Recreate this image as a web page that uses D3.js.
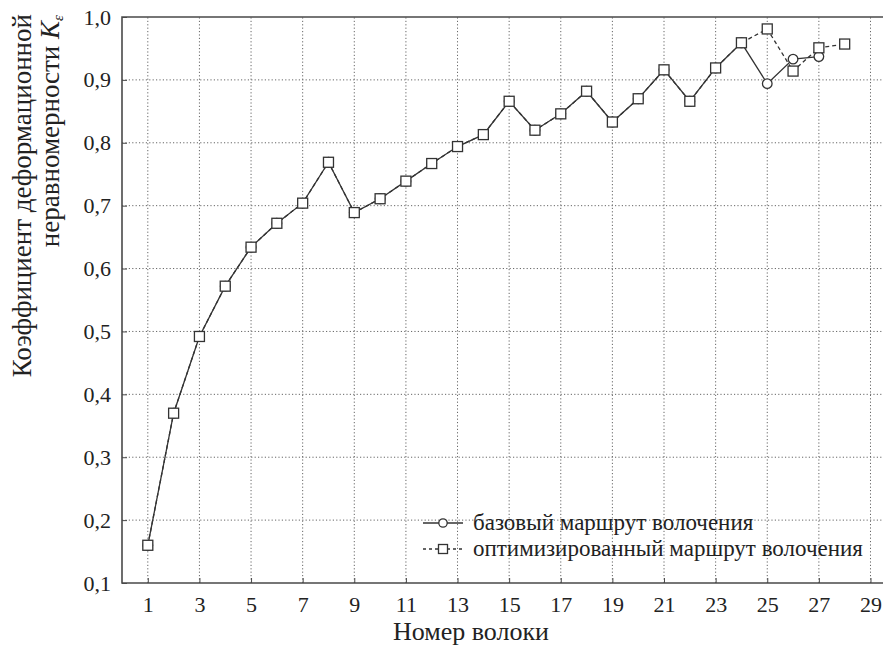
<!DOCTYPE html>
<html>
<head>
<meta charset="utf-8">
<script src="https://cdn.jsdelivr.net/npm/d3@7"></script>
</head>
<body style="margin:0;background:#fff">
<svg id="chart" width="883" height="648" style="display:block"></svg>
<script>
// ---- data ----
const baseX = [1,2,3,4,5,6,7,8,9,10,11,12,13,14,15,16,17,18,19,20,21,22,23,24,25,26,27];
const baseY = [0.160,0.370,0.492,0.572,0.634,0.672,0.704,0.769,0.689,0.711,0.739,0.767,0.794,0.813,0.866,0.820,0.846,0.882,0.833,0.870,0.916,0.866,0.919,0.959,0.894,0.933,0.937];
const optX  = [1,2,3,4,5,6,7,8,9,10,11,12,13,14,15,16,17,18,19,20,21,22,23,24,25,26,27,28];
const optY  = [0.160,0.370,0.492,0.572,0.634,0.672,0.704,0.769,0.689,0.711,0.739,0.767,0.794,0.813,0.866,0.820,0.846,0.882,0.833,0.870,0.916,0.866,0.919,0.959,0.981,0.914,0.951,0.957];
const xTicks = [1,3,5,7,9,11,13,15,17,19,21,23,25,27,29];
const yTicks = [0.1,0.2,0.3,0.4,0.5,0.6,0.7,0.8,0.9,1.0];
const seriesNames = ["базовый маршрут волочения", "оптимизированный маршрут волочения"];
const xTitle = "Номер волоки";
const yTitle1 = "Коэффициент деформационной";
const yTitle2 = "неравномерности";

// ---- layout ----
const FONT = '"Liberation Serif"';
function serif(sel, size) {
  sel.attr("font-family", "Liberation Serif")
     .style("font-family", FONT, "important")
     .style("font-size", size + "px", "important");
  return sel;
}
const svg = d3.select("#chart");
const plotLeft = 122, plotBottom = 583, plotTop = 17;
const x = d3.scaleLinear().domain([0, 30]).range([plotLeft, plotLeft + 30 * 25.81]);
const y = d3.scaleLinear().domain([0.1, 1.0]).range([plotBottom, plotTop]);
const ink = "#333";
const frame = "#4a4a4a";
const txt = "#222";

// grid
const grid = svg.append("g");
grid.selectAll("line.vx").data(xTicks).join("line")
  .attr("x1", d => x(d)).attr("x2", d => x(d))
  .attr("y1", plotBottom).attr("y2", plotTop)
  .attr("stroke", "#666").attr("stroke-width", 1).attr("stroke-dasharray", "1.2,2.2");
grid.selectAll("line.hy").data(yTicks.filter(d => d > 0.1 && d < 1.0)).join("line")
  .attr("x1", plotLeft).attr("x2", 883)
  .attr("y1", d => y(d)).attr("y2", d => y(d))
  .attr("stroke", "#666").attr("stroke-width", 1).attr("stroke-dasharray", "1.2,2.2");

// axes
const xAxis = d3.axisBottom(x).tickValues(xTicks).tickSizeInner(-5).tickSizeOuter(0).tickPadding(13)
  .tickFormat(d => String(d));
const gx = svg.append("g").attr("transform", `translate(0,${plotBottom})`).call(xAxis);
gx.attr("font-family", "Liberation Serif");
gx.select(".domain").remove();
gx.selectAll(".tick line").attr("stroke", frame).attr("stroke-width", 1);
serif(gx.selectAll(".tick text"), 22).attr("fill", txt);

const yAxis = d3.axisLeft(y).tickValues(yTicks).tickSizeInner(-5).tickSizeOuter(0).tickPadding(11)
  .tickFormat(d => d3.format(".1f")(d).replace(".", ","));
const gy = svg.append("g").attr("transform", `translate(${plotLeft},0)`).call(yAxis);
gy.attr("font-family", "Liberation Serif");
gy.select(".domain").remove();
gy.selectAll(".tick line").attr("stroke", frame).attr("stroke-width", 1);
serif(gy.selectAll(".tick text"), 22).attr("fill", txt);

// frame (left, bottom, top; right edge falls outside the image)
svg.append("path")
  .attr("d", `M900,${plotTop}H${plotLeft}V${plotBottom}H900`)
  .attr("fill", "none").attr("stroke", frame).attr("stroke-width", 1.6);

// series
const basePts = baseX.map((v, i) => [v, baseY[i]]);
const optPts = optX.map((v, i) => [v, optY[i]]);
const line = d3.line().x(d => x(d[0])).y(d => y(d[1]));
svg.append("path").attr("d", line(basePts)).attr("fill", "none")
  .attr("stroke", ink).attr("stroke-width", 1.3);
svg.append("path").attr("d", line(optPts)).attr("fill", "none")
  .attr("stroke", ink).attr("stroke-width", 1.3).attr("stroke-dasharray", "4,3");

svg.append("g").selectAll("circle").data(basePts).join("circle")
  .attr("cx", d => x(d[0])).attr("cy", d => y(d[1])).attr("r", 4.8)
  .attr("fill", "#fff").attr("stroke", ink).attr("stroke-width", 1.3);
const sq = 10;
svg.append("g").selectAll("rect").data(optPts).join("rect")
  .attr("x", d => x(d[0]) - sq / 2).attr("y", d => y(d[1]) - sq / 2)
  .attr("width", sq).attr("height", sq)
  .attr("fill", "#fff").attr("stroke", ink).attr("stroke-width", 1.3);

// legend
const lg = svg.append("g");
const lx0 = 423, lx1 = 463, lmx = 443, ltx = 473;
const rows = [523, 549];
lg.append("line").attr("x1", lx0).attr("x2", lx1).attr("y1", rows[0]).attr("y2", rows[0])
  .attr("stroke", ink).attr("stroke-width", 1.3);
lg.append("circle").attr("cx", lmx).attr("cy", rows[0]).attr("r", 4.2)
  .attr("fill", "#fff").attr("stroke", ink).attr("stroke-width", 1.3);
lg.append("line").attr("x1", lx0).attr("x2", lx1).attr("y1", rows[1]).attr("y2", rows[1])
  .attr("stroke", ink).attr("stroke-width", 1.3).attr("stroke-dasharray", "3,3");
lg.append("rect").attr("x", lmx - 4.5).attr("y", rows[1] - 4.5).attr("width", 9).attr("height", 9)
  .attr("fill", "#fff").attr("stroke", ink).attr("stroke-width", 1.3);
serif(lg.selectAll("text").data(seriesNames).join("text"), 23)
  .attr("x", ltx).attr("y", (d, i) => rows[i]).attr("dy", "0.32em")
  .attr("fill", txt).text(d => d);

// titles
serif(svg.append("text"), 26).attr("x", 471).attr("y", 640).attr("text-anchor", "middle")
  .attr("fill", txt).text(xTitle);

serif(svg.append("text"), 27).attr("transform", "translate(31,14) rotate(-90)")
  .attr("text-anchor", "end").attr("fill", txt).text(yTitle1);
const t2 = serif(svg.append("text"), 27).attr("transform", "translate(59,15) rotate(-90)")
  .attr("text-anchor", "end").attr("fill", txt);
t2.append("tspan").text(yTitle2 + "  ");
t2.append("tspan").style("font-style", "italic").text("K");
t2.append("tspan").style("font-size", "15px", "important").style("font-style", "italic").attr("dy", 4).text("ε");
</script>
</body>
</html>
